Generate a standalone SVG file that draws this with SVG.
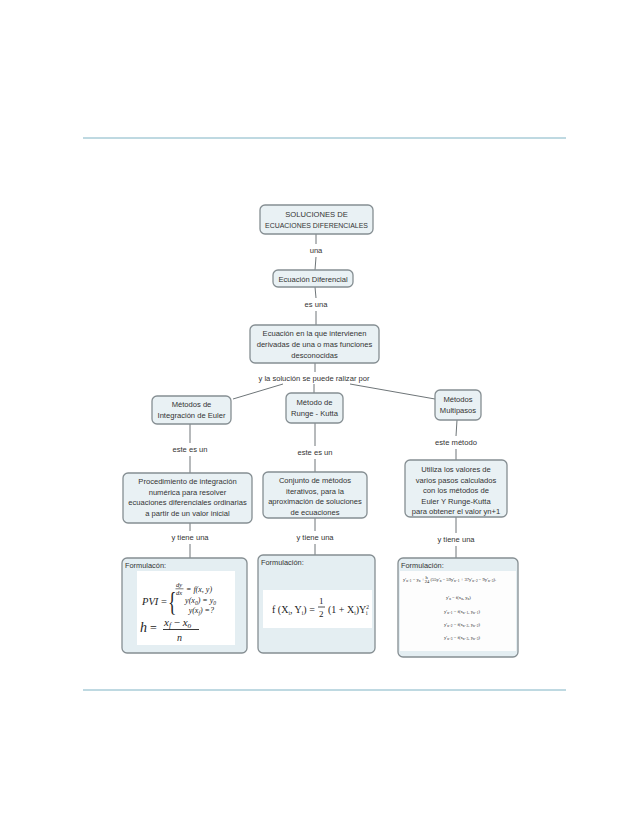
<svg xmlns="http://www.w3.org/2000/svg" width="638" height="826" viewBox="0 0 638 826">
<style>
.node{fill:#e9f1f4;stroke:#858e92;stroke-width:1.3}
.fbox{fill:#e4eef2;stroke:#858e92;stroke-width:1.3}
.t{font-family:"Liberation Sans",Arial,sans-serif;font-size:7.6px;fill:#333;text-anchor:middle}
.lbl{font-family:"Liberation Sans",Arial,sans-serif;font-size:7.6px;fill:#333;text-anchor:middle}
.c{stroke:#6e7578;stroke-width:1;fill:none}
.fh{font-family:"Liberation Sans",Arial,sans-serif;font-size:7.4px;fill:#333}
.m{font-family:"Liberation Serif","Times New Roman",serif;font-style:italic;fill:#222}
.mr{font-family:"Liberation Serif","Times New Roman",serif;fill:#222}
</style>
<rect width="638" height="826" fill="#fff"/>
<line x1="83" y1="138" x2="566" y2="138" stroke="#7fb3c4" stroke-width="1"/>
<line x1="83" y1="690" x2="566" y2="690" stroke="#7fb3c4" stroke-width="1"/>

<g id="connectors">
<path class="c" d="M316,234 L316,244 M316,257 L315,270"/>
<path class="c" d="M315,287 L316,298 M316,311 L316,325"/>
<path class="c" d="M315,363 L315,372 M233,399 L283,384 M314,384 L314,393 M350,384 L435,399"/>
<path class="c" d="M190,424 L190,443 M190,456 L190,473"/>
<path class="c" d="M315,423 L315,446 M315,459 L315,472"/>
<path class="c" d="M457,420 L456,436 M456,449 L456,460"/>
<path class="c" d="M190,523 L190,531 M190,544 L190,558"/>
<path class="c" d="M315,518 L315,531 M315,544 L315,555"/>
<path class="c" d="M456,517 L456,533 M456,546 L456,558"/>
<text class="lbl" x="316" y="253">una</text>
<text class="lbl" x="316" y="307">es una</text>
<text class="lbl" x="314" y="381">y la solución se puede ralizar por</text>
<text class="lbl" x="190" y="452">este es un</text>
<text class="lbl" x="315" y="455">este es un</text>
<text class="lbl" x="456" y="445">este método</text>
<text class="lbl" x="190" y="540">y tiene una</text>
<text class="lbl" x="315" y="540">y tiene una</text>
<text class="lbl" x="456" y="542">y tiene una</text>
</g>

<g id="n-soluciones">
<rect class="node" x="260" y="205" width="113" height="29" rx="5"/>
<text class="t" x="316.5" y="217" font-size="7">SOLUCIONES DE</text>
<text class="t" x="316.5" y="228" font-size="7" textLength="103" lengthAdjust="spacingAndGlyphs">ECUACIONES DIFERENCIALES</text>
</g>
<g id="n-ecuacion">
<rect class="node" x="273" y="270" width="80" height="17" rx="5"/>
<text class="t" x="313" y="281.5">Ecuación Diferencial</text>
</g>
<g id="n-definicion">
<rect class="node" x="250" y="325" width="129" height="38" rx="5"/>
<text class="t" x="314.5" y="336">Ecuación en la que intervienen</text>
<text class="t" x="314.5" y="347">derivadas de una o mas funciones</text>
<text class="t" x="314.5" y="358">desconocidas</text>
</g>
<g id="n-euler">
<rect class="node" x="152" y="396" width="79" height="28" rx="5"/>
<text class="t" x="191.5" y="407">Métodos de</text>
<text class="t" x="191.5" y="418">Integración de Euler</text>
</g>
<g id="n-runge">
<rect class="node" x="286" y="393" width="57" height="30" rx="5"/>
<text class="t" x="314.5" y="405">Método de</text>
<text class="t" x="314.5" y="416">Runge - Kutta</text>
</g>
<g id="n-multipasos">
<rect class="node" x="435" y="390" width="46" height="30" rx="5"/>
<text class="t" x="458" y="402">Métodos</text>
<text class="t" x="458" y="413">Multipasos</text>
</g>
<g id="n-procedimiento">
<rect class="node" x="123" y="473" width="129" height="50" rx="5"/>
<text class="t" x="187.5" y="484">Procedimiento de integración</text>
<text class="t" x="187.5" y="494.5">numérica para resolver</text>
<text class="t" x="187.5" y="505">ecuaciones diferenciales ordinarias</text>
<text class="t" x="187.5" y="515.5">a partir de un valor inicial</text>
</g>
<g id="n-conjunto">
<rect class="node" x="263" y="472" width="104" height="46" rx="5"/>
<text class="t" x="315" y="483">Conjunto de métodos</text>
<text class="t" x="315" y="493.5">iterativos, para la</text>
<text class="t" x="315" y="504">aproximación de soluciones</text>
<text class="t" x="315" y="514.5">de ecuaciones</text>
</g>
<g id="n-utiliza">
<rect class="node" x="405" y="460" width="102" height="57" rx="5"/>
<text class="t" x="456" y="472">Utiliza los valores de</text>
<text class="t" x="456" y="482.5">varios pasos calculados</text>
<text class="t" x="456" y="493">con los métodos de</text>
<text class="t" x="456" y="503.5">Euler Y Runge-Kutta</text>
<text class="t" x="456" y="514">para obtener el valor yn+1</text>
</g>

<g id="f-euler">
<rect class="fbox" x="122" y="558" width="125" height="95" rx="5"/>
<text class="fh" x="125" y="568">Formulacón:</text>
<rect x="137" y="571" width="98" height="74" fill="#fff"/>
<text class="m" x="142" y="605" font-size="10.5">PVI</text>
<text class="mr" x="161" y="605" font-size="10.5">=</text>
<text class="mr" x="0" y="611" font-size="27" transform="translate(168,0) scale(0.65,1)">{</text>
<text class="m" x="176" y="587" font-size="6.5">dy</text>
<line x1="175.5" y1="588.8" x2="183.5" y2="588.8" stroke="#222" stroke-width="0.6"/>
<text class="m" x="176" y="594.5" font-size="6.5">dx</text>
<text class="m" x="186" y="592" font-size="8">= f(x, y)</text>
<text class="m" x="216" y="603" font-size="8" text-anchor="end">y(x<tspan font-size="5.5" dy="1.5">0</tspan><tspan dy="-1.5">) = y</tspan><tspan font-size="5.5" dy="1.5">0</tspan></text>
<text class="m" x="214" y="613" font-size="8" text-anchor="end">y(x<tspan font-size="5.5" dy="1.5">f</tspan><tspan dy="-1.5">) =?</tspan></text>
<text class="m" x="140" y="632" font-size="14">h</text>
<text class="mr" x="150" y="632" font-size="12">=</text>
<text class="m" x="164" y="626" font-size="11">x<tspan font-size="7.5" dy="2">f</tspan><tspan dy="-2" font-style="normal"> − </tspan>x<tspan font-size="7.5" dy="2">o</tspan></text>
<line x1="163" y1="629.5" x2="199" y2="629.5" stroke="#222" stroke-width="0.9"/>
<text class="m" x="177" y="641" font-size="10">n</text>
</g>

<g id="f-runge">
<rect class="fbox" x="258" y="555" width="117" height="98" rx="5"/>
<text class="fh" x="261" y="565">Formulación:</text>
<rect x="263" y="590" width="109" height="38" fill="#fff"/>
<text class="mr" x="272" y="613" font-size="10">f (X<tspan font-size="5.5" dy="2">i</tspan><tspan dy="-2">, Y</tspan><tspan font-size="5.5" dy="2">i</tspan><tspan dy="-2">) =</tspan></text>
<text class="mr" x="319" y="604" font-size="9">1</text>
<line x1="318" y1="607" x2="325" y2="607" stroke="#222" stroke-width="0.8"/>
<text class="mr" x="319" y="617" font-size="9">2</text>
<text class="mr" x="328" y="613" font-size="10">(1 + X<tspan font-size="5.5" dy="2">i</tspan><tspan dy="-2">)Y</tspan><tspan font-size="5.5" dy="-4">2</tspan><tspan font-size="5.5" dx="-3" dy="6">i</tspan></text>
</g>

<g id="f-multipasos">
<rect class="fbox" x="398" y="558" width="120" height="99" rx="5"/>
<text class="fh" x="401" y="568" font-size="8">Formulación:</text>
<rect x="400" y="571" width="116" height="80" fill="#fdfdfd"/>
<text class="mr" x="403" y="581" font-size="4.6">y'<tspan font-size="3.5" dy="1">n+1</tspan><tspan dy="-1"> = y</tspan><tspan font-size="3.5" dy="1">n</tspan><tspan dy="-1"> + </tspan><tspan dy="-2">h</tspan><tspan dx="-3" dy="4">24</tspan><tspan dy="-2"> (55y'</tspan><tspan font-size="3.5" dy="1">n</tspan><tspan dy="-1"> − 59y'</tspan><tspan font-size="3.5" dy="1">n−1</tspan><tspan dy="-1"> + 37y'</tspan><tspan font-size="3.5" dy="1">n−2</tspan><tspan dy="-1"> − 9y'</tspan><tspan font-size="3.5" dy="1">n−3</tspan><tspan dy="-1">).</tspan></text>
<text class="mr" x="446" y="599" font-size="4.6">y'<tspan font-size="3.5" dy="1">n</tspan><tspan dy="-1"> = f(x</tspan><tspan font-size="3.5" dy="1">n</tspan><tspan dy="-1">, y</tspan><tspan font-size="3.5" dy="1">n</tspan><tspan dy="-1">)</tspan></text>
<text class="mr" x="444" y="613" font-size="4.6">y'<tspan font-size="3.5" dy="1">n−1</tspan><tspan dy="-1"> = f(x</tspan><tspan font-size="3.5" dy="1">n−1</tspan><tspan dy="-1">, y</tspan><tspan font-size="3.5" dy="1">n−1</tspan><tspan dy="-1">)</tspan></text>
<text class="mr" x="444" y="626" font-size="4.6">y'<tspan font-size="3.5" dy="1">n−2</tspan><tspan dy="-1"> = f(x</tspan><tspan font-size="3.5" dy="1">n−2</tspan><tspan dy="-1">, y</tspan><tspan font-size="3.5" dy="1">n−2</tspan><tspan dy="-1">)</tspan></text>
<text class="mr" x="444" y="639" font-size="4.6">y'<tspan font-size="3.5" dy="1">n−3</tspan><tspan dy="-1"> = f(x</tspan><tspan font-size="3.5" dy="1">n−3</tspan><tspan dy="-1">, y</tspan><tspan font-size="3.5" dy="1">n−3</tspan><tspan dy="-1">)</tspan></text>
</g>
</svg>
